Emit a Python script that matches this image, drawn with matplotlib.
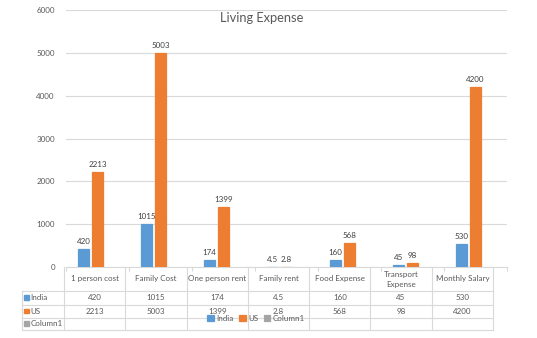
import numpy as np, matplotlib
matplotlib.use("Agg")
import matplotlib.pyplot as plt
from matplotlib.lines import Line2D
from matplotlib.patches import Rectangle

plt.rcParams['font.family'] = ['Lato', 'DejaVu Sans']

W, H = 537, 338
categories = ["1 person cost", "Family Cost", "One person rent", "Family rent",
              "Food Expense", "Transport\nExpense", "Monthly Salary"]
india = [420, 1015, 174, 4.5, 160, 45, 530]
us = [2213, 5003, 1399, 2.8, 568, 98, 4200]
column1 = [np.nan] * 7
series = ["India", "US", "Column1"]
colors = ["#5B9BD5", "#ED7D31", "#A5A5A5"]
yticks = [0, 1000, 2000, 3000, 4000, 5000, 6000]

TXT = "#595959"; GRID = "#D9D9D9"
fx = lambda px: px / W
fy = lambda py: 1 - py / H

fig = plt.figure(figsize=(W / 100, H / 100), dpi=100)
ax = fig.add_axes([fx(66), fy(267), fx(507) - fx(66), fy(10) - fy(267)])
x = np.arange(len(categories))
bw = 11 / 63.1; step = 14 / 63.1
for i, (name, vals, c) in enumerate(zip(series, [india, us, column1], colors)):
    xs = x + (i - 1) * step
    # thin edge + zorder over the spine keeps the tiny "Family rent" bars visible like in Excel
    ax.bar(xs, vals, width=bw, color=c, edgecolor=c, lw=0.9, label=name, zorder=3)
    for xi, v in zip(xs, vals):
        if not np.isnan(v):
            ax.text(xi, v + 90, f"{v:g}", ha="center", va="bottom", fontsize=5.8, color="#404040")

ax.set_ylim(0, 6000); ax.set_xlim(-0.5, 6.5)
ax.set_yticks(yticks)
ax.set_yticklabels([str(t) for t in yticks], fontsize=5.8, color=TXT)
ax.tick_params(axis="y", length=0, pad=8)
ax.set_xticks(np.arange(-0.5, 7, 1))
ax.set_xticklabels([])
ax.tick_params(axis="x", length=3, color=GRID, direction="out")
ax.grid(axis="y", color=GRID, lw=0.8)
ax.set_axisbelow(True)
for s in ["top", "right", "left"]:
    ax.spines[s].set_visible(False)
ax.spines["bottom"].set_color(GRID)
fig.text(fx(262), fy(18), "Living Expense", ha="center", va="center", fontsize=9.3, color=TXT)

# data table below the axis
bounds = np.linspace(64, 493, 8)
rows_y = [267, 291, 304.5, 317.5, 330]
def line(x0, x1, y0, y1):
    fig.add_artist(Line2D([fx(x0), fx(x1)], [fy(y0), fy(y1)], color=GRID, lw=0.8))
for yy in rows_y[1:]:
    line(22, 493, yy, yy)
line(22, 22, 291, 330)
for b in bounds:
    line(b, b, 267, 330)
cx = (bounds[:-1] + bounds[1:]) / 2
for c, lab in zip(cx, categories):
    fig.text(fx(c), fy(279), lab, ha="center", va="center", fontsize=5.8, color=TXT, linespacing=1.5)
for r, (name, vals, col) in enumerate(zip(series, [india, us, column1], colors)):
    ym = (rows_y[r + 1] + rows_y[r + 2]) / 2
    fig.add_artist(Rectangle((fx(24), fy(ym + 2.3)), 4.6 / W, 4.6 / H, color=col, transform=fig.transFigure))
    fig.text(fx(30.5), fy(ym), name, ha="left", va="center", fontsize=5.8, color=TXT)
    for c, v in zip(cx, vals):
        if not np.isnan(v):
            fig.text(fx(c), fy(ym), f"{v:g}", ha="center", va="center", fontsize=5.8, color=TXT)

fig.legend(loc="center", bbox_to_anchor=(fx(256), fy(318.5)), ncol=3, frameon=False,
           fontsize=5.8, handlelength=0.8, handleheight=0.8, handletextpad=0.3,
           columnspacing=0.7, labelcolor=TXT, borderpad=0)

fig.savefig("out.png", dpi=100)
